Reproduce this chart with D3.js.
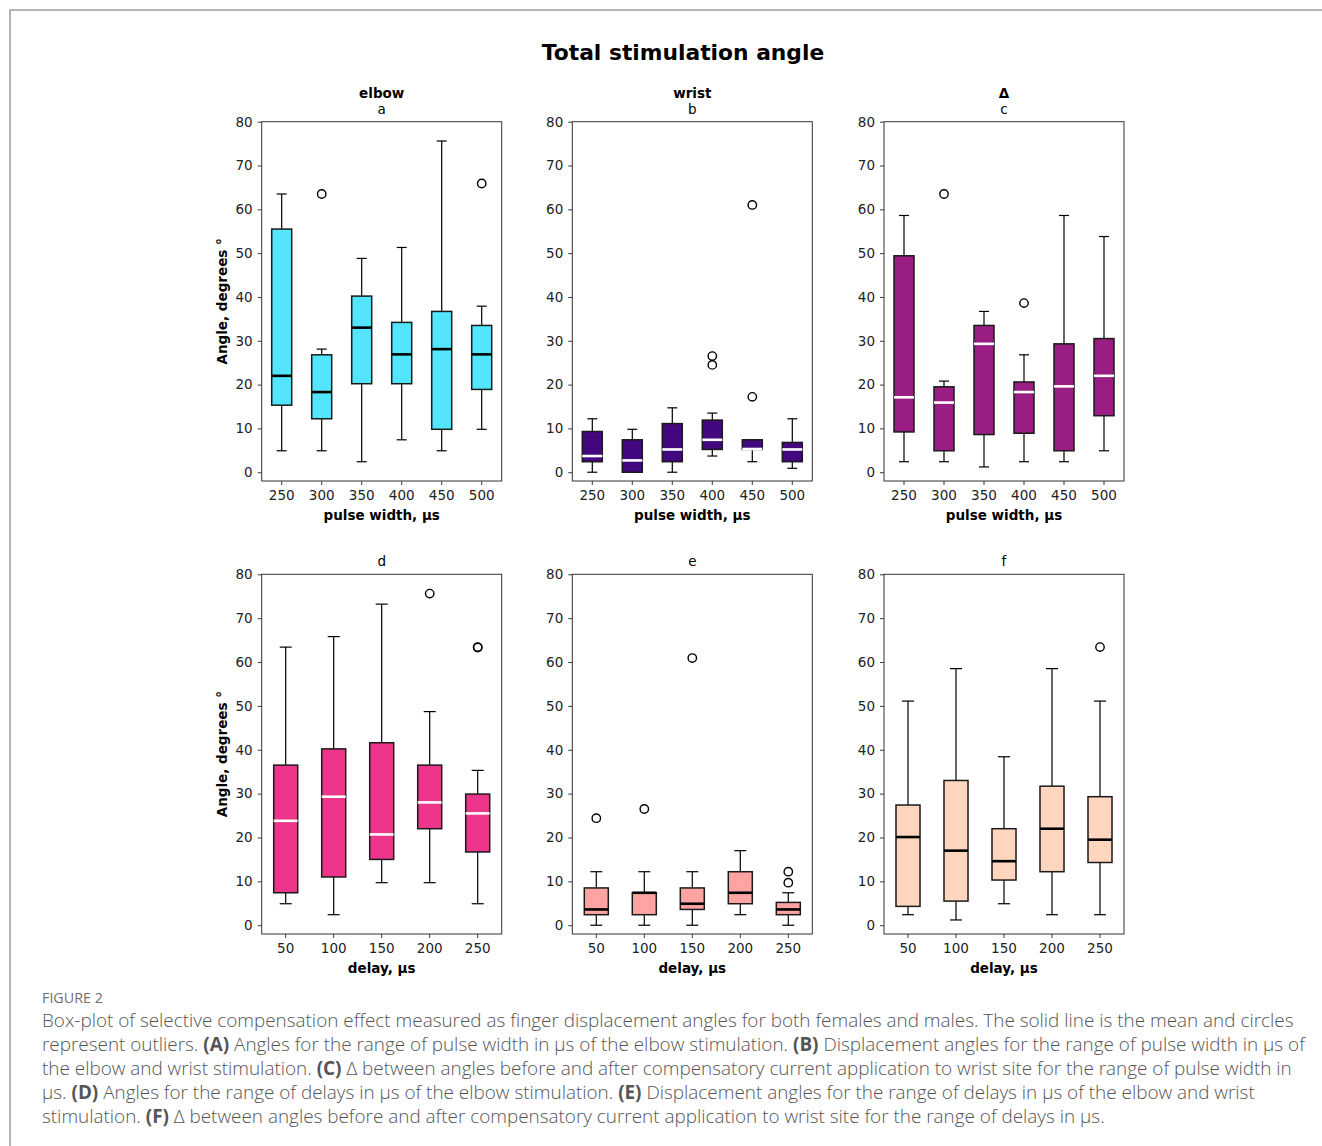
<!DOCTYPE html>
<html>
<head>
<meta charset="utf-8">
<script src="https://cdn.jsdelivr.net/npm/d3@7"></script>
<style>
  body { margin: 0; background: #fff; }
  svg text { font-family: "DejaVu Sans", sans-serif; }
  .caption text { font-family: "Open Sans", "Noto Sans", sans-serif; }
</style>
</head>
<body>
<svg id="fig" width="1322" height="1146"></svg>
<script>
// categories
const pulseWidths = ['250', '300', '350', '400', '450', '500'];
const delays = ['50', '100', '150', '200', '250'];
const yTicks = [0, 10, 20, 30, 40, 50, 60, 70, 80];

// box stats per category: [lower whisker, q1, median, q3, upper whisker]
const elbowPulse = [[4.9, 15.3, 22.0, 55.5, 63.5], [4.9, 12.2, 18.3, 26.8, 28.1], [2.4, 20.2, 33.0, 40.2, 48.8],
                    [7.4, 20.2, 26.9, 34.2, 51.3], [4.9, 9.8, 28.1, 36.7, 75.6], [9.8, 18.9, 26.9, 33.5, 37.9]];
const elbowPulseOut = [[], [63.5], [], [], [], [65.9]];

const wristPulse = [[0, 2.4, 3.7, 9.3, 12.2], [0, 0, 2.7, 7.4, 9.8], [0, 2.4, 5.2, 11.1, 14.7],
                    [3.7, 5.2, 7.4, 11.9, 13.5], [2.4, 5.2, 5.3, 7.4, 7.4], [0.9, 2.4, 5.2, 6.8, 12.2]];
const wristPulseOut = [[], [], [], [26.5, 24.5], [61.0, 17.2], []];

const deltaPulse = [[2.4, 9.2, 17.1, 49.4, 58.6], [2.4, 4.9, 15.9, 19.5, 20.8], [1.2, 8.6, 29.3, 33.5, 36.7],
                    [2.4, 8.9, 18.3, 20.6, 26.8], [2.4, 4.9, 19.6, 29.3, 58.6], [4.9, 12.9, 22.0, 30.5, 53.8]];
const deltaPulseOut = [[], [63.5], [], [38.6], [], []];

const elbowDelay = [[4.9, 7.4, 23.8, 36.5, 63.4], [2.4, 11.0, 29.3, 40.2, 65.8], [9.7, 15.0, 20.7, 41.6, 73.2],
                    [9.7, 22.0, 28.0, 36.5, 48.7], [4.9, 16.7, 25.5, 29.9, 35.3]];
const elbowDelayOut = [[], [], [], [75.6], [63.4, 63.3]];

const wristDelay = [[0, 2.4, 3.6, 8.5, 12.2], [0, 2.4, 7.4, 7.4, 12.2], [0, 3.6, 4.9, 8.5, 12.2],
                    [2.4, 4.9, 7.4, 12.2, 17.0], [0, 2.4, 3.6, 5.2, 7.4]];
const wristDelayOut = [[24.4], [26.5], [60.9], [], [12.2, 9.7]];

const deltaDelay = [[2.4, 4.3, 20.1, 27.4, 51.1], [1.2, 5.5, 17.0, 33.0, 58.5], [4.9, 10.3, 14.6, 22.0, 38.4],
                    [2.4, 12.2, 22.0, 31.7, 58.5], [2.4, 14.3, 19.5, 29.3, 51.1]];
const deltaDelayOut = [[], [], [], [], [63.4]];

const captionLines = [
  [['Box-plot of selective compensation effect measured as finger displacement angles for both females and males. The solid line is the mean and circles', 0]],
  [['represent outliers. ', 0], ['(A)', 1], [' Angles for the range of pulse width in µs of the elbow stimulation. ', 0], ['(B)', 1], [' Displacement angles for the range of pulse width in µs of', 0]],
  [['the elbow and wrist stimulation. ', 0], ['(C)', 1], [' Δ between angles before and after compensatory current application to wrist site for the range of pulse width in', 0]],
  [['µs. ', 0], ['(D)', 1], [' Angles for the range of delays in µs of the elbow stimulation. ', 0], ['(E)', 1], [' Displacement angles for the range of delays in µs of the elbow and wrist', 0]],
  [['stimulation. ', 0], ['(F)', 1], [' Δ between angles before and after compensatory current application to wrist site for the range of delays in µs.', 0]]
];

const svg = d3.select('#fig');
const fs = '13.5px';

// page frame
svg.append('path').attr('d', 'M10,1146 V10 H1322').attr('fill', 'none').attr('stroke', '#9a9a9a').attr('stroke-width', 1.5);

svg.append('text').attr('x', 683).attr('y', 60).attr('text-anchor', 'middle')
  .style('font-size', '21.8px').style('font-weight', 'bold').text('Total stimulation angle');

const colLeft = [261.7, 572.3, 884];
const axW = 240;
const rows = [{top: 121.7, bottom: 481}, {top: 574.3, bottom: 934}];

const panels = [
  {row: 0, col: 0, head: 'elbow', letter: 'a', cats: pulseWidths, stats: elbowPulse, out: elbowPulseOut, fill: '#52e5fc', med: '#000', xlab: 'pulse width, µs', ylab: true},
  {row: 0, col: 1, head: 'wrist', letter: 'b', cats: pulseWidths, stats: wristPulse, out: wristPulseOut, fill: '#43077f', med: '#fff', xlab: 'pulse width, µs'},
  {row: 0, col: 2, head: 'Δ', letter: 'c', cats: pulseWidths, stats: deltaPulse, out: deltaPulseOut, fill: '#991d83', med: '#fff', xlab: 'pulse width, µs'},
  {row: 1, col: 0, letter: 'd', cats: delays, stats: elbowDelay, out: elbowDelayOut, fill: '#eb368b', med: '#fff', xlab: 'delay, µs', ylab: true},
  {row: 1, col: 1, letter: 'e', cats: delays, stats: wristDelay, out: wristDelayOut, fill: '#ffa3a3', med: '#000', xlab: 'delay, µs'},
  {row: 1, col: 2, letter: 'f', cats: delays, stats: deltaDelay, out: deltaDelayOut, fill: '#ffd6bd', med: '#000', xlab: 'delay, µs'}
];

panels.forEach(p => {
  const left = colLeft[p.col], right = left + axW;
  const top = rows[p.row].top, bottom = rows[p.row].bottom;
  const xScale = d3.scaleBand().domain(p.cats).range([left, right]).padding(0);
  const yScale = d3.scaleLinear().domain([-2, 80]).range([bottom, top]);
  const bw = xScale.bandwidth() * 0.5;
  const g = svg.append('g');
  const cx = (left + right) / 2;

  if (p.head) {
    g.append('text').attr('x', cx).attr('y', top - 24).attr('text-anchor', 'middle')
      .style('font-size', fs).style('font-weight', 'bold').text(p.head);
  }
  g.append('text').attr('x', cx).attr('y', top - 8).attr('text-anchor', 'middle')
    .style('font-size', fs).text(p.letter);

  const yAxis = g.append('g').attr('transform', `translate(${left},0)`)
    .call(d3.axisLeft(yScale).tickValues(yTicks).tickSize(4).tickPadding(5));
  const xAxis = g.append('g').attr('transform', `translate(0,${bottom})`)
    .call(d3.axisBottom(xScale).tickSize(4).tickPadding(5));
  [yAxis, xAxis].forEach(a => {
    a.select('.domain').remove();
    a.selectAll('line').attr('stroke', '#222').attr('stroke-width', 0.9);
    a.selectAll('text').style('font-size', fs).style('font-family', '"DejaVu Sans", sans-serif').attr('fill', '#222');
  });

  g.append('text').attr('x', cx).attr('y', bottom + 39).attr('text-anchor', 'middle')
    .style('font-size', fs).style('font-weight', 'bold').text(p.xlab);
  if (p.ylab) {
    g.append('text').attr('transform', `translate(${left - 35},${(top + bottom) / 2}) rotate(-90)`)
      .attr('text-anchor', 'middle').style('font-size', fs).style('font-weight', 'bold').text('Angle, degrees °');
  }

  const boxes = g.selectAll('g.box').data(p.stats).join('g').attr('class', 'box');
  const xc = (d, i) => xScale(p.cats[i]) + xScale.bandwidth() / 2;
  // whiskers
  boxes.append('line').attr('x1', xc).attr('x2', xc)
    .attr('y1', d => yScale(d[0])).attr('y2', d => yScale(d[1])).attr('stroke', '#000').attr('stroke-width', 1.2);
  boxes.append('line').attr('x1', xc).attr('x2', xc)
    .attr('y1', d => yScale(d[3])).attr('y2', d => yScale(d[4])).attr('stroke', '#000').attr('stroke-width', 1.2);
  // caps
  [0, 4].forEach(k => {
    boxes.append('line').attr('x1', (d, i) => xc(d, i) - bw / 4).attr('x2', (d, i) => xc(d, i) + bw / 4)
      .attr('y1', d => yScale(d[k])).attr('y2', d => yScale(d[k])).attr('stroke', '#000').attr('stroke-width', 1.2);
  });
  boxes.append('rect')
    .attr('x', (d, i) => xc(d, i) - bw / 2).attr('width', bw)
    .attr('y', d => yScale(d[3])).attr('height', d => Math.max(yScale(d[1]) - yScale(d[3]), 0.5))
    .attr('fill', p.fill).attr('stroke', '#1a1a1a').attr('stroke-width', 1.5);
  boxes.append('line').attr('x1', (d, i) => xc(d, i) - bw / 2).attr('x2', (d, i) => xc(d, i) + bw / 2)
    .attr('y1', d => yScale(d[2])).attr('y2', d => yScale(d[2])).attr('stroke', p.med).attr('stroke-width', 2.6);
  // outliers
  p.out.forEach((vals, i) => {
    g.selectAll(null).data(vals).join('circle')
      .attr('cx', xc(null, i)).attr('cy', v => yScale(v)).attr('r', 4.2)
      .attr('fill', 'none').attr('stroke', '#000').attr('stroke-width', 1.4);
  });

  g.append('rect').attr('x', left).attr('y', top).attr('width', axW).attr('height', bottom - top)
    .attr('fill', 'none').attr('stroke', '#333').attr('stroke-width', 1);
});

// caption
const cap = svg.append('g').attr('class', 'caption');
cap.append('text').attr('x', 42).attr('y', 1003).attr('fill', '#707070')
  .style('font-size', '14.3px').text('FIGURE 2');
captionLines.forEach((line, i) => {
  const t = cap.append('text').attr('x', 42).attr('y', 1027 + i * 24).attr('fill', '#555')
    .style('font-size', '18.9px').style('font-weight', 300);
  line.forEach(([s, b]) => t.append('tspan').style('font-weight', b ? 700 : 300).text(s));
});
</script>
</body>
</html>
